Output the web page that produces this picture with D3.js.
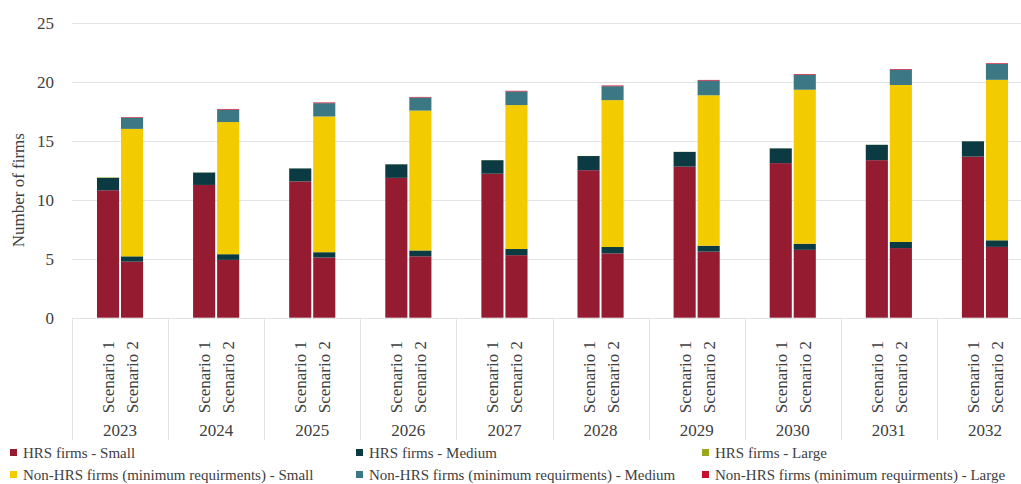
<!DOCTYPE html>
<html>
<head>
<meta charset="utf-8">
<script src="https://cdn.jsdelivr.net/npm/d3@7"></script>
<style>
  html, body { margin: 0; padding: 0; background: #fff; }
  svg { display: block; font-family: "Liberation Serif", "DejaVu Serif", serif; }
</style>
</head>
<body>
<svg id="chart" width="1021" height="484"></svg>
<script>
// ---- data ----
const years = ["2023","2024","2025","2026","2027","2028","2029","2030","2031","2032"];
const scenarios = ["Scenario 1", "Scenario 2"];
const yTicks = [0, 5, 10, 15, 20, 25];
const seriesNames = [
  "HRS firms - Small",
  "HRS firms - Medium",
  "HRS firms - Large",
  "Non-HRS firms (minimum requirments) - Small",
  "Non-HRS firms (minimum requirments) - Medium",
  "Non-HRS firms (minimum requirments) - Large"
];
const seriesColors = ["#941b30", "#0b3a42", "#9aa91c", "#f2cb00", "#3c7883", "#c8102e"];

// Scenario 1
const s1HrsSmall  = [10.8, 11.25, 11.55, 11.85, 12.2, 12.5, 12.8, 13.1, 13.35, 13.65];
const s1HrsMedium = [1.05, 1.05, 1.1, 1.15, 1.15, 1.2, 1.25, 1.25, 1.3, 1.3];
const s1HrsLarge  = [0.04, 0.01, 0.01, 0.01, 0.01, 0.01, 0.01, 0.01, 0.01, 0.01];
// Scenario 2
const s2HrsSmall     = [4.75, 4.9, 5.1, 5.2, 5.3, 5.45, 5.6, 5.75, 5.9, 6.0];
const s2HrsMedium    = [0.45, 0.48, 0.45, 0.5, 0.52, 0.54, 0.5, 0.52, 0.52, 0.56];
const s2HrsLarge     = [0, 0, 0, 0, 0, 0, 0, 0, 0, 0];
const s2NonSmall     = [10.8, 11.2, 11.5, 11.85, 12.2, 12.45, 12.75, 13.05, 13.3, 13.6];
const s2NonMedium    = [0.95, 1.05, 1.13, 1.11, 1.15, 1.18, 1.24, 1.27, 1.29, 1.34];
const s2NonLarge     = [0.05, 0.06, 0.06, 0.05, 0.06, 0.06, 0.06, 0.06, 0.06, 0.06];

const zeros = years.map(() => 0);
const valuesByScenario = {
  "Scenario 1": [s1HrsSmall, s1HrsMedium, s1HrsLarge, zeros, zeros, zeros],
  "Scenario 2": [s2HrsSmall, s2HrsMedium, s2HrsLarge, s2NonSmall, s2NonMedium, s2NonLarge]
};

// rows
const rows = [];
years.forEach((yr, i) => {
  scenarios.forEach(sc => {
    const row = { year: yr, scenario: sc };
    seriesNames.forEach((s, k) => { row[s] = valuesByScenario[sc][k][i]; });
    rows.push(row);
  });
});

// ---- layout ----
const svg = d3.select("#chart");
const plotLeft = 72, plotRight = 1033, plotTop = 22.7, plotBottom = 317.7;
const textColor = "#404040";
const gridColor = "#e3e3e3";

const x0 = d3.scaleBand().domain(years).range([plotLeft, plotRight]).padding(0);
const x1 = d3.scaleBand().domain(scenarios).range([0, x0.bandwidth()]).paddingInner(0.08).paddingOuter(1.04);
const y = d3.scaleLinear().domain([0, 25]).range([plotBottom, plotTop]);

// gridlines
svg.append("g").selectAll("line").data(yTicks).join("line")
  .attr("x1", plotLeft).attr("x2", 1021)
  .attr("y1", d => Math.round(y(d)) + 0.5).attr("y2", d => Math.round(y(d)) + 0.5)
  .attr("stroke", gridColor).attr("stroke-width", 1);

// y axis labels
const yAxis = d3.axisLeft(y).tickValues(yTicks).tickSize(0).tickPadding(0);
const gy = svg.append("g").attr("transform", "translate(54,0)").call(yAxis);
gy.select(".domain").remove();
gy.selectAll("text").attr("fill", textColor).attr("font-size", 17)
  .attr("font-family", "Liberation Serif, serif");

// y axis title
svg.append("text")
  .attr("transform", `translate(24,${(plotTop + plotBottom) / 2 + 20}) rotate(-90)`)
  .attr("text-anchor", "middle")
  .attr("fill", textColor).attr("font-size", 17)
  .text("Number of firms");

// category separators
const sepXs = years.map(yr => x0(yr)).concat([x0(years[years.length - 1]) + x0.bandwidth()]);
svg.append("g").selectAll("line").data(sepXs).join("line")
  .attr("x1", d => Math.round(d) + 0.5).attr("x2", d => Math.round(d) + 0.5)
  .attr("y1", plotBottom).attr("y2", 440)
  .attr("stroke", gridColor).attr("stroke-width", 1);

// stacked bars
const stack = d3.stack().keys(seriesNames);
const stacked = stack(rows);
const barsG = svg.append("g");
stacked.forEach((layer, k) => {
  barsG.append("g").attr("fill", seriesColors[k])
    .selectAll("rect").data(layer.filter(d => d[1] - d[0] > 0)).join("rect")
    .attr("x", d => x0(d.data.year) + x1(d.data.scenario))
    .attr("width", x1.bandwidth())
    .attr("y", d => y(d[1]))
    .attr("height", d => y(d[0]) - y(d[1]));
});

// scenario labels
const scenG = svg.append("g");
years.forEach(yr => {
  scenarios.forEach(sc => {
    const cx = x0(yr) + x1(sc) + x1.bandwidth() / 2;
    scenG.append("text")
      .attr("transform", `translate(${cx + 6},341) rotate(-90)`)
      .attr("text-anchor", "end")
      .attr("fill", textColor).attr("font-size", 17)
      .text(sc);
  });
});

// year labels
svg.append("g").selectAll("text").data(years).join("text")
  .attr("x", d => x0(d) + x0.bandwidth() / 2)
  .attr("y", 436)
  .attr("text-anchor", "middle")
  .attr("fill", textColor).attr("font-size", 17)
  .text(d => d);

// legend
const legendPos = [
  { x: 10, y: 453 }, { x: 356, y: 453 }, { x: 702, y: 453 },
  { x: 10, y: 475 }, { x: 356, y: 475 }, { x: 702, y: 475 }
];
const lg = svg.append("g");
seriesNames.forEach((s, k) => {
  const p = legendPos[k];
  lg.append("rect").attr("x", p.x).attr("y", p.y - 4).attr("width", 7).attr("height", 7)
    .attr("fill", seriesColors[k]);
  lg.append("text").attr("x", p.x + 13).attr("y", p.y + 5)
    .attr("fill", textColor).attr("font-size", 15)
    .text(s);
});
</script>
</body>
</html>
